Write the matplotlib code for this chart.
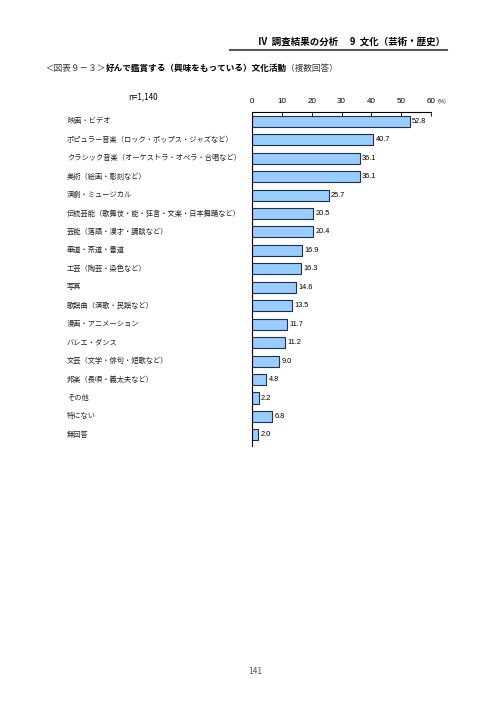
import matplotlib.pyplot as plt
from matplotlib.transforms import blended_transform_factory
from matplotlib.lines import Line2D

plt.rcParams['font.family'] = ['Noto Sans CJK JP', 'DejaVu Sans']

# データ
kategorien = ["映画・ビデオ",
              "ポピュラー音楽（ロック・ポップス・ジャズなど）",
              "クラシック音楽（オーケストラ・オペラ・合唱など）",
              "美術（絵画・彫刻など）",
              "演劇・ミュージカル",
              "伝統芸能（歌舞伎・能・狂言・文楽・日本舞踊など）",
              "芸能（落語・漫才・講談など）",
              "華道・茶道・書道",
              "工芸（陶芸・染色など）",
              "写真",
              "歌謡曲（演歌・民謡など）",
              "漫画・アニメーション",
              "バレエ・ダンス",
              "文芸（文学・俳句・短歌など）",
              "邦楽（長唄・義太夫など）",
              "その他",
              "特にない",
              "無回答"]
verdier = [52.8, 40.7, 36.1, 36.1, 25.7, 20.5, 20.4, 16.9, 16.3,
           14.6, 13.5, 11.7, 11.2, 9.0, 4.8, 2.2, 6.8, 2.0]
xticks = [0, 10, 20, 30, 40, 50, 60]

W, H = 496, 702
fig = plt.figure(figsize=(W / 100, H / 100), dpi=100)
ax = fig.add_axes([252 / W, 1 - 446 / H, 179 / W, 334 / H])

pos = list(range(len(kategorien)))
ax.barh(pos, verdier, height=0.6, color="#99CCFF", edgecolor="#1F2F4F", linewidth=0.8)
ax.set_ylim(17.6, -0.5)
ax.set_xlim(0, 60)

ax.xaxis.tick_top()
ax.set_xticks(xticks)
ax.set_xticklabels([str(t) for t in xticks], fontsize=5.8, family="Liberation Sans")
ax.tick_params(axis="x", direction="in", length=3, width=0.6, pad=5)
ax.set_yticks([])
for side in ["right", "bottom"]:
    ax.spines[side].set_visible(False)
ax.spines["top"].set_linewidth(0.8)
ax.spines["left"].set_linewidth(0.8)

# verdier ved søylene
for p, v in zip(pos, verdier):
    ax.text(v + 0.8, p, f"{v:.1f}", va="center", ha="left", fontsize=5.3,
            family="Liberation Sans")

# kategorier
trans = blended_transform_factory(fig.transFigure, ax.transData)
for p, k in zip(pos, kategorien):
    ax.text(67 / W, p, k, transform=trans, va="center", ha="left",
            fontsize=5.2, color="#222222")

fig.text(437 / W, 1 - 101 / H, "(%)", fontsize=4, va="center", ha="left")

# overskrift
fig.text(258 / W, 1 - 42 / H, "Ⅳ  調査結果の分析　 9  文化（芸術・歴史）",
         fontsize=6.8, fontweight="bold", va="center", ha="left")
fig.add_artist(Line2D([230 / W, 447 / W], [1 - 50 / H, 1 - 50 / H],
                      color="#555555", linewidth=1.5))

# tittel i tre deler
t1 = fig.text(45 / W, 1 - 71 / H, "＜図表９－３＞", fontsize=6.2,
              va="baseline", ha="left", color="#333333")
t2 = ax.annotate("好んで鑑賞する（興味をもっている）文化活動", xy=(1, 0), xycoords=t1,
                 fontsize=6.2, fontweight="bold", va="bottom", ha="left")
ax.annotate("（複数回答）", xy=(1, 0), xycoords=t2, fontsize=6.2,
            va="bottom", ha="left", color="#333333")

fig.text(128 / W, 1 - 97 / H, "n=1,140", fontsize=5.8, va="center", ha="left")
fig.text(248 / W, 1 - 671 / H, "141", fontsize=6, va="center", ha="left",
         color="#555555")

fig.savefig("out.png", dpi=100)
